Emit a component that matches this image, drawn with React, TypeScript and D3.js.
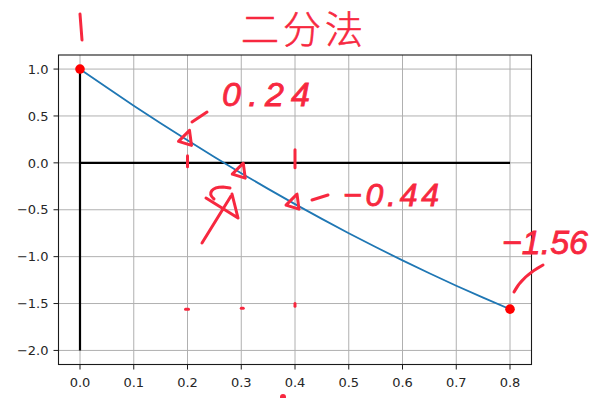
import React from "react";
import * as d3 from "d3";

const xs = [0, 0.05, 0.1, 0.15, 0.2, 0.25, 0.3, 0.35, 0.4, 0.45, 0.5, 0.55, 0.6, 0.65, 0.7, 0.75, 0.8];
const ys = [1, 0.8025, 0.61, 0.4225, 0.24, 0.0625, -0.11, -0.2775, -0.44, -0.5975, -0.75, -0.8975, -1.04, -1.1775, -1.31, -1.4375, -1.56];
const xTicks = [0, 0.1, 0.2, 0.3, 0.4, 0.5, 0.6, 0.7, 0.8];
const yTicks = [1, 0.5, 0, -0.5, -1, -1.5, -2];
const endPointsX = [0, 0.8];
const endPointsY = [1, -1.56];
const title = "二分法";
const noteLabels = ["0.24", "−0.44", "−1.56", "1"];

const W = 596, H = 398;
const L = 58.5, R = 531.5, T = 55, B = 364.5;
const RED = "#f7283f";

export default function App() {
  const x = d3.scaleLinear().domain([-0.04, 0.84]).range([L, R]);
  const y = d3.scaleLinear().domain([-2.15, 1.15]).range([B, T]);
  const line = d3.line<number>().x((_, i) => x(xs[i])).y((d) => y(d)).curve(d3.curveMonotoneX);
  const fmt = (v: number) => v.toFixed(1).replace("-", "−");
  const hand = { fill: "none", stroke: RED, strokeWidth: 3, strokeLinecap: "round" as const, strokeLinejoin: "round" as const };
  const tri = (cx: number, cy: number) => {
    const px = x(cx), py = y(cy);
    return `M${px + 2},${py - 10} L${px - 9},${py + 1} L${px + 4},${py + 5} Z`;
  };
  return (
    <svg width={W} height={H} style={{ position: "absolute", left: 0, top: 0, background: "#fff" }}
      fontFamily="DejaVu Sans, sans-serif">
      <rect x={0} y={0} width={W} height={H} fill="#fff" />
      {/* grid */}
      {xTicks.map((t) => (
        <line key={"gx" + t} x1={x(t)} x2={x(t)} y1={T} y2={B} stroke="#b0b0b0" strokeWidth={1} />
      ))}
      {yTicks.map((t) => (
        <line key={"gy" + t} x1={L} x2={R} y1={y(t)} y2={y(t)} stroke="#b0b0b0" strokeWidth={1} />
      ))}
      {/* black axes lines */}
      <line x1={x(0)} x2={x(0.8)} y1={y(0)} y2={y(0)} stroke="#000" strokeWidth={2.2} />
      <line x1={x(0)} x2={x(0)} y1={y(-2)} y2={y(1)} stroke="#000" strokeWidth={2.2} />
      {/* curve */}
      <path d={line(ys) || ""} fill="none" stroke="#1f77b4" strokeWidth={1.8} />
      {/* end points */}
      {endPointsX.map((v, i) => (
        <circle key={"p" + i} cx={x(v)} cy={y(endPointsY[i])} r={4.8} fill="#ff0000" />
      ))}
      {/* frame */}
      <rect x={L} y={T} width={R - L} height={B - T} fill="none" stroke="#1a1a1a" strokeWidth={1.1} />
      {/* ticks */}
      {xTicks.map((t) => (
        <g key={"tx" + t}>
          <line x1={x(t)} x2={x(t)} y1={B} y2={B + 5} stroke="#1a1a1a" strokeWidth={1} />
          <text x={x(t)} y={B + 22} textAnchor="middle" fontSize={13} fill="#262626">{fmt(t)}</text>
        </g>
      ))}
      {yTicks.map((t) => (
        <g key={"ty" + t}>
          <line x1={L - 5} x2={L} y1={y(t)} y2={y(t)} stroke="#1a1a1a" strokeWidth={1} />
          <text x={L - 10} y={y(t) + 4.7} textAnchor="end" fontSize={13} fill="#262626">{fmt(t)}</text>
        </g>
      ))}
      {/* hand-written annotations */}
      <text x={304} y={43} textAnchor="middle" fontSize={38} fill={RED} stroke={RED} strokeWidth={0.6}
        fontFamily="Noto Sans CJK SC" fontWeight={300} letterSpacing={4}>{title}</text>
      <line x1={x(0)} x2={x(0) + 2} y1={14} y2={40} {...hand} />
      <text x={222} y={106} fontSize={34} fill={RED} stroke={RED} strokeWidth={0.8} fontStyle="italic" fontFamily="Liberation Sans" textLength={88}>{noteLabels[0]}</text>
      <line x1={192} y1={122} x2={207} y2={112} {...hand} />
      <path d={tri(0.2, 0.24)} {...hand} />
      <path d={tri(0.3, -0.11)} {...hand} />
      <path d={tri(0.4, -0.44)} {...hand} />
      <line x1={x(0.2)} x2={x(0.2)} y1={y(0) - 7} y2={y(0) + 4} {...hand} />
      <line x1={x(0.4)} x2={x(0.4)} y1={y(0) - 13} y2={y(0) + 5} {...hand} />
      <line x1={312} y1={200} x2={328} y2={195} {...hand} />
      <text x={343} y={206} fontSize={32} fill={RED} stroke={RED} strokeWidth={0.8} fontStyle="italic" fontFamily="Liberation Sans" textLength={96}>{noteLabels[1]}</text>
      <path d="M202,243 L231,196 M214,199 C207,193 212,187 223,187 L230,188 M232,194 L238,218 L206,198" {...hand} />
      <text x={502} y={254} fontSize={34} fill={RED} stroke={RED} strokeWidth={0.8} fontStyle="italic" fontFamily="Liberation Sans" textLength={86}>{noteLabels[2]}</text>
      <path d="M514,292 C520,280 530,272 543,265" {...hand} />
      <line x1={x(0.2) - 2} x2={x(0.2) + 1} y1={y(-1.56)} y2={y(-1.56)} {...hand} />
      <line x1={x(0.3)} x2={x(0.3) + 2} y1={y(-1.55)} y2={y(-1.55)} {...hand} />
      <line x1={x(0.4)} x2={x(0.4)} y1={y(-1.5)} y2={y(-1.53)} {...hand} />
      <circle cx={283} cy={397} r={3} fill={RED} />
    </svg>
  );
}
